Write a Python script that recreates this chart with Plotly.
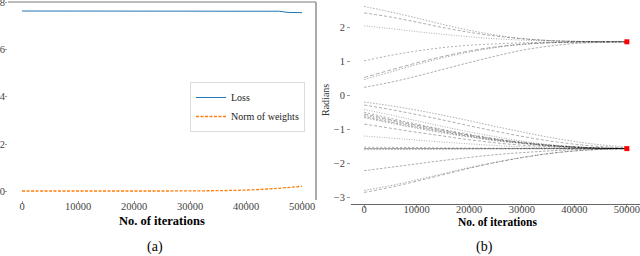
import plotly.graph_objects as go

# ---------------- data ----------------
loss_iters = [0, 10000, 20000, 30000, 40000, 46000, 47500, 50000]
loss = [7.62, 7.62, 7.62, 7.62, 7.62, 7.61, 7.56, 7.55]

norm_iters = [0, 5000, 10000, 15000, 20000, 25000, 30000, 35000, 40000, 45000, 50000]
norm = [0.02, 0.02, 0.02, 0.02, 0.02, 0.02, 0.025, 0.035, 0.06, 0.12, 0.22]

angle_iters = [0, 5000, 10000, 15000, 20000, 25000, 30000, 35000, 40000, 45000, 50000]

upper_1 = [2.61, 2.45, 2.27, 2.08, 1.91, 1.77, 1.67, 1.61, 1.585, 1.575, 1.571]
upper_2 = [2.42, 2.30, 2.15, 1.99, 1.85, 1.74, 1.66, 1.61, 1.585, 1.575, 1.571]
upper_3 = [2.04, 1.96, 1.87, 1.79, 1.72, 1.66, 1.62, 1.595, 1.58, 1.574, 1.571]
upper_4 = [1.01, 1.17, 1.30, 1.40, 1.47, 1.51, 1.54, 1.555, 1.565, 1.569, 1.571]
upper_5 = [0.52, 0.74, 0.95, 1.14, 1.30, 1.42, 1.50, 1.54, 1.56, 1.567, 1.571]
upper_6 = [0.46, 0.68, 0.90, 1.10, 1.27, 1.40, 1.49, 1.54, 1.56, 1.567, 1.571]
upper_7 = [0.23, 0.38, 0.56, 0.76, 0.96, 1.15, 1.32, 1.44, 1.52, 1.555, 1.571]

lower_1 = [-0.20, -0.31, -0.44, -0.59, -0.75, -0.92, -1.08, -1.23, -1.36, -1.46, -1.52]
lower_2 = [-0.29, -0.42, -0.57, -0.73, -0.90, -1.06, -1.21, -1.34, -1.44, -1.51, -1.55]
lower_3 = [-0.42, -0.58, -0.75, -0.92, -1.08, -1.22, -1.35, -1.45, -1.51, -1.55, -1.565]
lower_4 = [-0.50, -0.68, -0.85, -1.01, -1.15, -1.28, -1.38, -1.46, -1.52, -1.555, -1.57]
lower_5 = [-0.55, -0.72, -0.88, -1.03, -1.17, -1.29, -1.39, -1.47, -1.52, -1.555, -1.57]
lower_6 = [-0.59, -0.75, -0.91, -1.06, -1.19, -1.31, -1.40, -1.48, -1.53, -1.56, -1.57]
lower_7 = [-0.63, -0.79, -0.94, -1.08, -1.21, -1.32, -1.41, -1.48, -1.53, -1.56, -1.57]
lower_8 = [-0.66, -0.82, -0.97, -1.11, -1.23, -1.34, -1.42, -1.49, -1.53, -1.56, -1.57]
lower_9 = [-0.85, -0.97, -1.09, -1.20, -1.31, -1.40, -1.47, -1.51, -1.545, -1.562, -1.57]
lower_10 = [-1.20, -1.26, -1.32, -1.38, -1.43, -1.48, -1.52, -1.545, -1.56, -1.567, -1.57]
lower_11 = [-1.53, -1.535, -1.54, -1.55, -1.555, -1.56, -1.565, -1.567, -1.569, -1.57, -1.571]
lower_12 = [-1.57, -1.57, -1.57, -1.57, -1.57, -1.57, -1.57, -1.571, -1.571, -1.571, -1.571]
lower_13 = [-1.60, -1.598, -1.595, -1.59, -1.585, -1.58, -1.577, -1.575, -1.573, -1.572, -1.571]
lower_14 = [-2.22, -2.12, -2.02, -1.92, -1.83, -1.75, -1.69, -1.64, -1.60, -1.58, -1.571]
lower_15 = [-2.80, -2.66, -2.49, -2.31, -2.13, -1.97, -1.83, -1.72, -1.64, -1.595, -1.575]
lower_16 = [-2.86, -2.71, -2.53, -2.34, -2.15, -1.98, -1.84, -1.72, -1.64, -1.595, -1.575]

final_iter = [50000, 50000]
final_angle = [1.5708, -1.5708]

x_ticks = [0, 10000, 20000, 30000, 40000, 50000]
left_y_ticks = [0, 2, 4, 6, 8]
right_y_ticks = [-3, -2, -1, 0, 1, 2]

# ---------------- figure ----------------
SERIF = "Liberation Serif, Times New Roman, serif"
fig = go.Figure()

fig.add_trace(go.Scatter(x=loss_iters, y=loss, mode="lines", name="Loss",
                         line=dict(color="#1f77b4", width=1),
                         xaxis="x", yaxis="y"))
fig.add_trace(go.Scatter(x=norm_iters, y=norm, mode="lines", name="Norm of weights",
                         line=dict(color="#ff7f0e", width=1.3, dash="3px,1.5px", shape="spline"),
                         xaxis="x", yaxis="y"))

upper = [upper_1, upper_2, upper_3, upper_4, upper_5, upper_6, upper_7]
lower = [lower_1, lower_2, lower_3, lower_4, lower_5, lower_6, lower_7, lower_8,
         lower_9, lower_10, lower_11, lower_12, lower_13, lower_14, lower_15, lower_16]
dashes = ["1.5px,1.5px", "3px,2px", "1px,1.5px", "2px,2px", "4px,2px", "1.5px,1.5px", "2.5px,1.5px"]
for i, series in enumerate(upper + lower):
    solid = series is lower_12
    fig.add_trace(go.Scatter(
        x=angle_iters, y=series, mode="lines", showlegend=False,
        line=dict(color="rgba(0,0,0,0.38)" if solid else "rgba(0,0,0,0.32)", width=1,
                  dash="solid" if solid else dashes[i % len(dashes)], shape="spline"),
        xaxis="x2", yaxis="y2"))

fig.add_trace(go.Scatter(x=final_iter, y=final_angle, mode="markers", showlegend=False,
                         marker=dict(color="red", size=5, symbol="square"),
                         xaxis="x2", yaxis="y2"))

W, H = 640, 256
def px(v):
    return v / W
def py(v):
    return 1 - v / H

tickfont = dict(family=SERIF, size=10.5, color="#444")
common = dict(showgrid=False, zeroline=False, ticks="outside", automargin=False,
              tickcolor="#999", tickfont=tickfont, ticklabeloverflow="allow")
fig.update_layout(
    width=W, height=H,
    margin=dict(l=0, r=0, t=0, b=0, pad=0),
    paper_bgcolor="white", plot_bgcolor="white",
    showlegend=True,
    legend=dict(x=px(190), y=py(82), xanchor="left", yanchor="top",
                bgcolor="white", bordercolor="#dcdcdc", borderwidth=1,
                font=dict(family=SERIF, size=10, color="#222"),
                itemwidth=30, tracegroupgap=0),
    xaxis=dict(domain=[px(8), px(316)], range=[-2500, 52500],
               tickvals=x_ticks, tickformat="d", ticklen=3, ticklabelstandoff=-7,
               anchor="y", **common),
    yaxis=dict(domain=[py(200), py(2)], range=[-0.36, 8.0],
               tickvals=left_y_ticks, ticklen=2, ticklabelstandoff=-2,
               anchor="x", **common),
    xaxis2=dict(domain=[px(351), 1.0], range=[-2500, 52500],
                tickvals=x_ticks, tickformat="d", ticklen=3, ticklabelstandoff=-8,
                showline=True, linecolor="#666", linewidth=1,
                anchor="y2", **common),
    yaxis2=dict(domain=[py(204), 1.0], range=[-3.2, 2.8],
                tickvals=right_y_ticks, ticklen=3,
                anchor="x2", **common),
    shapes=[
        dict(type="line", xref="x domain", yref="y domain", x0=0, x1=1, y0=1, y1=1,
             line=dict(color="#777", width=1)),
        dict(type="line", xref="x domain", yref="y domain", x0=1, x1=1, y0=0, y1=1,
             line=dict(color="#aaa", width=2)),
    ],
    annotations=[
        dict(text="<b>No. of iterations</b>", x=px(162), y=py(221), xref="paper", yref="paper",
             xanchor="center", yanchor="middle",
             showarrow=False, font=dict(family=SERIF, size=12.5, color="black")),
        dict(text="<b>No. of iterations</b>", x=px(497), y=py(222), xref="paper", yref="paper",
             xanchor="center", yanchor="middle",
             showarrow=False, font=dict(family=SERIF, size=11.5, color="black")),
        dict(text="(a)", x=px(155), y=py(247), xref="paper", yref="paper",
             xanchor="center", yanchor="middle",
             showarrow=False, font=dict(family=SERIF, size=14, color="black")),
        dict(text="(b)", x=px(484), y=py(247), xref="paper", yref="paper",
             xanchor="center", yanchor="middle",
             showarrow=False, font=dict(family=SERIF, size=14, color="black")),
        dict(text="Radians", x=px(325), y=py(100), xref="paper", yref="paper",
             xanchor="center", yanchor="middle",
             textangle=-90, showarrow=False, font=dict(family=SERIF, size=10, color="#333")),
    ],
)

fig.write_html("out.html", config={"displayModeBar": False},
               post_script="document.body.style.margin='0px';")
